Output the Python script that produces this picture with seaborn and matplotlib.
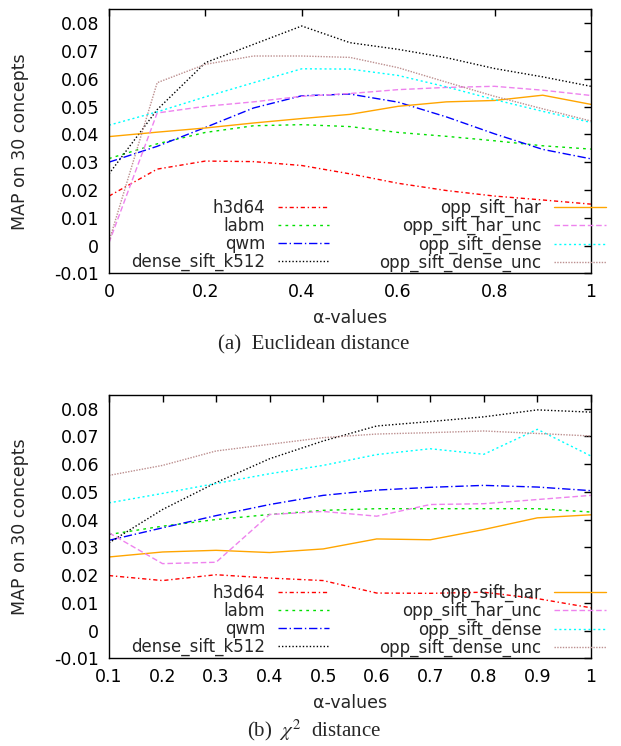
"""
MAP vs alpha for 30 concepts, Euclidean and chi^2 distance (two stacked panels).
"""

import matplotlib
matplotlib.use("Agg")
import matplotlib.pyplot as plt
import pandas as pd
import seaborn as sns
from matplotlib.ticker import FuncFormatter, MultipleLocator

# -----------------------------
# Data
# -----------------------------

METHODS = [
    "h3d64",
    "labm",
    "qwm",
    "dense_sift_k512",
    "opp_sift_har",
    "opp_sift_har_unc",
    "opp_sift_dense",
    "opp_sift_dense_unc",
]

# (a) Euclidean distance
ALPHA_EUC = [0.0, 0.1, 0.2, 0.3, 0.4, 0.5, 0.6, 0.7, 0.8, 0.9, 1.0]
EUC_H3D64 = [0.0178, 0.0275, 0.0304, 0.0302, 0.0288, 0.0258, 0.0224, 0.0198, 0.0178, 0.0164, 0.0149]
EUC_LABM = [0.0313, 0.0366, 0.0407, 0.0431, 0.0435, 0.0428, 0.0407, 0.0393, 0.0377, 0.0359, 0.0347]
EUC_QWM = [0.0300, 0.0357, 0.0425, 0.0495, 0.0539, 0.0545, 0.0516, 0.0463, 0.0402, 0.0346, 0.0312]
EUC_DENSE_K512 = [0.0258, 0.0489, 0.0658, 0.0724, 0.0790, 0.0730, 0.0706, 0.0676, 0.0637, 0.0607, 0.0573]
EUC_OPP_HAR = [0.0392, 0.0408, 0.0423, 0.0441, 0.0457, 0.0472, 0.0501, 0.0517, 0.0522, 0.0541, 0.0508]
EUC_OPP_HAR_UNC = [0.0010, 0.0477, 0.0501, 0.0517, 0.0537, 0.0547, 0.0561, 0.0569, 0.0573, 0.0559, 0.0540]
EUC_OPP_DENSE = [0.0433, 0.0481, 0.0535, 0.0586, 0.0636, 0.0635, 0.0612, 0.0571, 0.0525, 0.0483, 0.0443]
EUC_OPP_DENSE_UNC = [0.0015, 0.0586, 0.0652, 0.0682, 0.0682, 0.0677, 0.0640, 0.0588, 0.0537, 0.0492, 0.0448]

# (b) chi^2 distance
ALPHA_CHI = [0.1, 0.2, 0.3, 0.4, 0.5, 0.6, 0.7, 0.8, 0.9, 1.0]
CHI_H3D64 = [0.0198, 0.0180, 0.0201, 0.0189, 0.0180, 0.0135, 0.0134, 0.0138, 0.0115, 0.0082]
CHI_LABM = [0.0346, 0.0376, 0.0400, 0.0418, 0.0433, 0.0439, 0.0439, 0.0439, 0.0439, 0.0427]
CHI_QWM = [0.0325, 0.0370, 0.0414, 0.0454, 0.0487, 0.0506, 0.0516, 0.0523, 0.0517, 0.0504]
CHI_DENSE_K512 = [0.0316, 0.0436, 0.0533, 0.0619, 0.0683, 0.0737, 0.0753, 0.0770, 0.0795, 0.0787]
CHI_OPP_HAR = [0.0265, 0.0283, 0.0289, 0.0281, 0.0294, 0.0330, 0.0327, 0.0364, 0.0406, 0.0417]
CHI_OPP_HAR_UNC = [0.0352, 0.0241, 0.0246, 0.0418, 0.0429, 0.0412, 0.0454, 0.0457, 0.0472, 0.0487]
CHI_OPP_DENSE = [0.0460, 0.0494, 0.0530, 0.0565, 0.0595, 0.0634, 0.0655, 0.0635, 0.0725, 0.0629]
CHI_OPP_DENSE_UNC = [0.0559, 0.0595, 0.0647, 0.0671, 0.0695, 0.0708, 0.0713, 0.0719, 0.0710, 0.0701]

EUC_SERIES = [EUC_H3D64, EUC_LABM, EUC_QWM, EUC_DENSE_K512,
              EUC_OPP_HAR, EUC_OPP_HAR_UNC, EUC_OPP_DENSE, EUC_OPP_DENSE_UNC]
CHI_SERIES = [CHI_H3D64, CHI_LABM, CHI_QWM, CHI_DENSE_K512,
              CHI_OPP_HAR, CHI_OPP_HAR_UNC, CHI_OPP_DENSE, CHI_OPP_DENSE_UNC]

# -----------------------------
# Styling (gnuplot-like)
# -----------------------------

COLORS = {
    "h3d64": "#ff0000",
    "labm": "#00e000",
    "qwm": "#0000ff",
    "dense_sift_k512": "#000000",
    "opp_sift_har": "#ffa500",
    "opp_sift_har_unc": "#ee82ee",
    "opp_sift_dense": "#00ffff",
    "opp_sift_dense_unc": "#bc8f8f",
}
DASHES = {
    "h3d64": (0, (3, 2, 1, 2)),
    "labm": (0, (2, 3)),
    "qwm": (0, (6, 2, 1, 2)),
    "dense_sift_k512": (0, (1, 1.5)),
    "opp_sift_har": "-",
    "opp_sift_har_unc": (0, (4, 2)),
    "opp_sift_dense": (0, (1.5, 2)),
    "opp_sift_dense_unc": (0, (1, 1)),
}

sns.set_style("white")
plt.rcParams["font.family"] = ["DejaVu Sans"]
plt.rcParams["axes.unicode_minus"] = False
plt.rcParams["mathtext.fontset"] = "stix"

FS = 12.5
LEGEND_FS = 12


def to_long(alpha, series):
    frames = []
    for name, values in zip(METHODS, series):
        frames.append(pd.DataFrame({"alpha": alpha, "map": values, "method": name}))
    return pd.concat(frames, ignore_index=True)


def fmt(v, _pos):
    if abs(v) < 1e-9:
        return "0"
    return f"{v:g}"


def draw_panel(ax, alpha, series, xmin, xstep):
    df = to_long(alpha, series)
    for name in METHODS:
        sub = df[df["method"] == name]
        sns.lineplot(data=sub, x="alpha", y="map", ax=ax, color=COLORS[name],
                     linestyle=DASHES[name], linewidth=1.0, label=name)

    ax.set_xlim(xmin, 1.0)
    ax.set_ylim(-0.01, 0.085)
    ax.xaxis.set_major_locator(MultipleLocator(xstep))
    ax.yaxis.set_major_locator(MultipleLocator(0.01))
    ax.xaxis.set_major_formatter(FuncFormatter(fmt))
    ax.yaxis.set_major_formatter(FuncFormatter(fmt))
    ax.tick_params(direction="in", length=5, width=1, top=True, right=True,
                   labelsize=FS, pad=7, colors="black")
    for spine in ax.spines.values():
        spine.set_color("black")
        spine.set_linewidth(1.0)

    ax.set_xlabel("α-values", fontsize=FS, labelpad=6)
    ax.set_ylabel("MAP on 30 concepts", fontsize=FS, labelpad=18)

    ax.legend(ncol=2, markerfirst=False, frameon=False, loc="lower left",
              bbox_to_anchor=(0.046, 0.005), handlelength=3.1, handletextpad=0.75,
              columnspacing=3.0, labelspacing=0.0, borderpad=0, borderaxespad=0,
              fontsize=LEGEND_FS)


fig = plt.figure(figsize=(6.21, 7.46), dpi=100)
ax_top = fig.add_axes([0.1755, 0.6336, 0.776, 0.3539])
ax_bot = fig.add_axes([0.1755, 0.1176, 0.776, 0.3534])

draw_panel(ax_top, ALPHA_EUC, EUC_SERIES, 0.0, 0.2)
draw_panel(ax_bot, ALPHA_CHI, CHI_SERIES, 0.1, 0.1)

fig.text(0.505, 1 - 345 / 746, "(a)  Euclidean distance", ha="center", va="center",
         fontsize=15, family="Liberation Serif")
fig.text(0.505, 1 - 730 / 746, "(b)  $\\chi^2$  distance", ha="center", va="center",
         fontsize=15, family="Liberation Serif")

fig.savefig("out.png", dpi=100)
